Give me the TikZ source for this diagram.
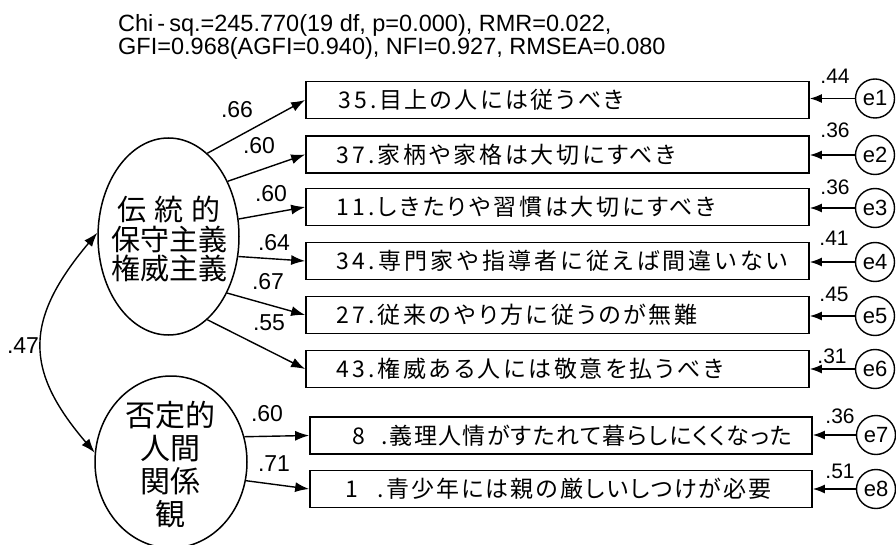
\documentclass[tikz,border=0pt]{standalone}
\usepackage{fontspec}
\setmainfont{Liberation Sans}
\newfontfamily\jpbox[RawFeature=+palt,LetterSpace=12]{Noto Sans CJK JP}
\newfontfamily\jpell{Noto Sans CJK JP}
\usetikzlibrary{arrows.meta,shapes.geometric}
\tikzset{
  obsbox/.style={draw, line width=1.7pt, minimum width=503pt, minimum height=37pt, inner sep=0pt},
  obsboxb/.style={obsbox, minimum width=502pt},
  btext/.style={font={\jpbox\fontsize{23}{25}\selectfont}, anchor=west, inner sep=0pt},
  latent/.style={draw, ellipse, line width=1.5pt, inner sep=0pt},
  ltext/.style={align=center, inner sep=0pt},
  errc/.style={draw, circle, line width=1.4pt, minimum size=39pt, inner sep=0pt, font=\fontsize{22}{24}\selectfont},
  load/.style={-{Latex[length=14pt,width=10pt]}, line width=1.4pt},
  errarr/.style={-{Latex[length=12pt,width=9pt]}, line width=1.4pt},
  cov/.style={{Latex[length=14pt,width=10pt]}-{Latex[length=14pt,width=10pt]}, line width=1.4pt},
  plab/.style={font=\fontsize{23}{25}\selectfont, inner sep=0pt},
  vlab/.style={font=\fontsize{21}{23}\selectfont, inner sep=0pt},
  ttl/.style={font=\fontsize{23.5}{25}\selectfont, inner sep=0pt, anchor=base west}
}
\begin{document}
\begin{tikzpicture}[x=1pt,y=-1pt]
\useasboundingbox (0,0) rectangle (896,545);
\fill[white] (0,0) rectangle (896,545);

% title
\node[ttl] (title1) at (118,32) {Chi\kern4pt-\kern4pt sq.=245.770(19 df, p=0.000), RMR=0.022,};
\node[ttl] (title2) at (118,55) {GFI=0.968(AGFI=0.940), NFI=0.927, RMSEA=0.080};

% observed boxes
\node[obsbox] (b1) at (557.5,100) {};
\node[obsbox] (b2) at (557.5,154.5) {};
\node[obsbox] (b3) at (557.5,207) {};
\node[obsbox] (b4) at (557.5,261) {};
\node[obsbox] (b5) at (557.5,315) {};
\node[obsbox] (b6) at (557.5,369) {};
\node[obsboxb] (b7) at (561,435.5) {};
\node[obsboxb] (b8) at (561,489) {};

\node[btext] (t1) at (338,100) {\addfontfeatures{LetterSpace=11}3\hspace{4pt}5.目上の人には従うべき};
\node[btext] (t2) at (336,154.5) {3\hspace{4pt}7.家柄や家格は大切にすべき};
\node[btext] (t3) at (336,207) {1\hspace{4pt}1.しきたりや習慣は大切にすべき};
\node[btext] (t4) at (336,261) {\addfontfeatures{LetterSpace=14}3\hspace{4pt}4.専門家や指導者に従えば間違いない};
\node[btext] (t5) at (336,315) {2\hspace{4pt}7.従来のやり方に従うのが無難};
\node[btext] (t6) at (336,369) {4\hspace{4pt}3.権威ある人には敬意を払うべき};
\node[btext] (t7) at (352,435.5) {\addfontfeatures{LetterSpace=6}8\hspace{17pt}.義理人情がすたれて暮らしにくくなった};
\node[btext] (t8) at (345,489) {\addfontfeatures{LetterSpace=9}1\hspace{20pt}.青少年には親の厳しいしつけが必要};

% latent variables
\node[latent, minimum width=141pt, minimum height=197pt] (F1) at (168.5,236.5) {};
\node[ltext, font={\jpell\fontsize{29}{29.5}\selectfont}] (F1t) at (169,239) {伝\hspace{8pt}統\hspace{8pt}的\\保守主義\\権威主義};
\node[latent, minimum width=152pt, minimum height=172pt] (F2) at (171,462) {};
\node[ltext, font={\jpell\fontsize{30}{33}\selectfont}] (F2t) at (170,465) {否定的\\人間\\関係\\観};

% error terms
\node[errc] (e1) at (875,98.5) {e1};
\node[errc] (e2) at (875,155) {e2};
\node[errc] (e3) at (875,208) {e3};
\node[errc] (e4) at (875,262) {e4};
\node[errc] (e5) at (875,316) {e5};
\node[errc] (e6) at (875,369) {e6};
\node[errc] (e7) at (876,435) {e7};
\node[errc] (e8) at (876,489) {e8};

% loadings
\draw[load] (F1.65.5) -- (b1.west);
\draw[load] (F1.43.5) -- (b2.west);
\draw[load] (F1.14.5) -- (b3.west);
\draw[load] (F1.-16.7) -- (b4.west);
\draw[load] (F1.-44.5) -- (b5.west);
\draw[load] (F1.-65.2) -- (b6.west);
\draw[load] (F2.19.4) -- (b7.west);
\draw[load] (F2.-14) -- (b8.west);

% error arrows
\foreach \i in {1,...,8}{
  \draw[errarr] (e\i.west) -- (b\i.east |- e\i.west);
}

% covariance
\draw[cov] (F1.177) .. controls (24,320) and (24,370) .. (F2.173);

% loading labels
\node[plab] (l1) at (237,110) {.66};
\node[plab] (l2) at (259,146) {.60};
\node[plab] (l3) at (271,194) {.60};
\node[plab] (l4) at (274,243) {.64};
\node[plab] (l5) at (268,282) {.67};
\node[plab] (l6) at (269,323) {.55};
\node[plab] (l7) at (267,414) {.60};
\node[plab] (l8) at (274,464) {.71};
\node[plab] (l9) at (23,346) {.47};

% variance labels
\node[vlab] (v1) at (835,76) {.44};
\node[vlab] (v2) at (835,130) {.36};
\node[vlab] (v3) at (835,187) {.36};
\node[vlab] (v4) at (834,238) {.41};
\node[vlab] (v5) at (834,294) {.45};
\node[vlab] (v6) at (832,356) {.31};
\node[vlab] (v7) at (840,416) {.36};
\node[vlab] (v8) at (840,471) {.51};
\end{tikzpicture}
\end{document}
